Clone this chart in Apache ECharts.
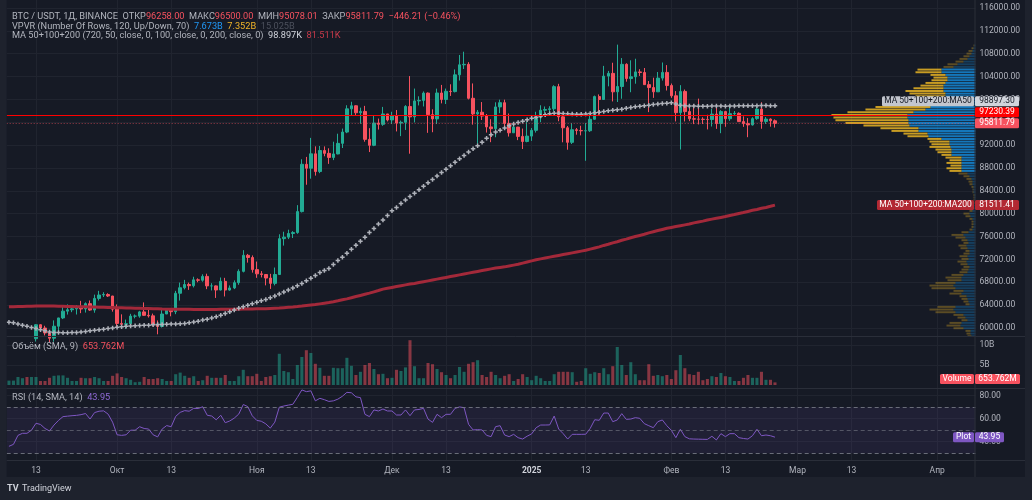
<!DOCTYPE html>
<html>
<head>
<meta charset="utf-8">
<script src="https://cdn.jsdelivr.net/npm/echarts@6/dist/echarts.min.js"></script>
<style>
html, body { margin: 0; padding: 0; background: #161a25; }
#chart { width: 1032px; height: 500px; }
</style>
</head>
<body>
<div id="chart"></div>
<script>
// daily bars Sep 7 2024 .. Feb 24 2025, BINANCE BTCUSDT
const opens = [
  53950, 54160, 54870, 57040, 57650, 57340, 58130, 60570, 60000, 59130, 58210, 60310, 61760, 62950, 63190, 63350, 63580, 63330, 64260, 63140, 65180, 65770, 65860, 65600,
  63300, 60800, 60650, 60750, 62080, 62080, 62820, 62220, 62130, 60580, 60270, 62450, 63190, 62850, 66080, 67040, 67610, 67400, 68430, 68360, 69030, 67370, 67370, 66650, 68160, 66640, 67010, 67930, 69910, 72720, 72340,
  70220, 69480, 69360, 68740, 67810, 69360, 75640, 75900, 76540, 76700, 80370, 88650, 87960, 90480, 87380, 91060, 90560, 89850, 90460, 92310, 94290, 98350, 98890, 97670, 97900, 93010, 91970, 95860, 95640, 97460,
  96410, 97190, 95860, 96000, 98770, 96950, 99740, 99830, 101110, 97340, 96590, 101130, 100000, 101420, 101370, 104300, 106060, 106140, 100200, 97460, 97760, 97090, 95190, 94880, 98690, 99430, 95800, 94160, 95160, 93530, 92640,
  93580, 94590, 96890, 98110, 98240, 98360, 102240, 96950, 95040, 92490, 94700, 94570, 94510, 94520, 96530, 100500, 99990, 104080, 104560, 101330, 102260, 106140, 103650, 103960, 104820, 104710, 102590, 102080, 101330, 103730, 104730,
  102430, 100640, 97690, 101400, 97870, 96620, 96550, 96530, 96500, 96480, 97430, 95780, 97870, 96620, 97510, 97570, 96120, 95770, 95540, 96640, 98310, 96150, 96560, 96258
];
const highs = [
  54850, 55320, 58100, 58040, 57990, 58590, 60670, 60660, 60390, 59210, 61330, 61790, 63850, 64130, 63560, 64000, 64750, 64480, 64820, 65840, 66500, 66260, 66080, 65620,
  64130, 62390, 61470, 62480, 62370, 63000, 64480, 63180, 62520, 61320, 63420, 63480, 63290, 66500, 67950, 68420, 67940, 68970, 68690, 69400, 69500, 67840, 67450, 68840, 68780, 67450, 68330, 70270, 73620, 72960, 72700,
  71630, 69960, 69400, 69480, 70580, 76400, 76850, 77200, 76950, 81500, 89530, 89940, 93270, 91790, 91850, 91780, 91450, 92600, 94000, 94900, 98980, 99590, 98980, 98560, 98870, 94970, 97200, 96650, 98690, 97460,
  97840, 98150, 96300, 99000, 104090, 101900, 100550, 101400, 101220, 98270, 101890, 102540, 101900, 102650, 105250, 107780, 108350, 106520, 102800, 98150, 99540, 97450, 96540, 99500, 99960, 99960, 97540, 95530, 95200, 94900, 96150,
  95000, 97840, 98980, 98770, 98810, 102480, 102730, 97260, 95350, 95840, 95000, 95390, 95890, 97370, 100680, 100880, 105870, 104990, 106420, 109590, 107240, 106330, 106850, 107120, 105290, 105500, 103220, 103800, 104800, 106460, 106010,
  102780, 101460, 102500, 101730, 99210, 99200, 100140, 96880, 97320, 98350, 98500, 98120, 98000, 98830, 97970, 97730, 97040, 96740, 96890, 98760, 99510, 96920, 96670, 96500
];
const lows = [
  53740, 53630, 54590, 56410, 55550, 57330, 57630, 59440, 58700, 57490, 57610, 59170, 61560, 62350, 62770, 62360, 62600, 62700, 62990, 62670, 64810, 65420, 65420, 62860,
  60160, 59980, 59830, 60460, 61690, 61800, 62130, 61830, 60300, 58900, 60080, 62440, 62050, 62420, 64800, 66750, 66670, 67100, 68000, 68100, 66800, 66570, 65260, 66570, 65520, 66520, 66810, 67560, 69730, 71440, 69690,
  68780, 68850, 67460, 66840, 67460, 69300, 74420, 75560, 75750, 76490, 80220, 85070, 86130, 86670, 87100, 90050, 88720, 89380, 90400, 91500, 94100, 97180, 97230, 95740, 92600, 90790, 91820, 94730, 95380, 96150,
  95690, 94400, 93580, 94660, 90500, 95980, 98950, 98770, 94150, 94260, 95690, 99310, 99200, 100610, 101230, 103300, 105320, 100000, 95590, 92230, 96400, 94200, 92520, 93380, 97600, 95140, 93500, 94120, 92880, 91320, 92500,
  92740, 94200, 96020, 97550, 97280, 97930, 96180, 92500, 91200, 92200, 93830, 93710, 89260, 94310, 96460, 97300, 99940, 102290, 99650, 99550, 100120, 103110, 101260, 102750, 104110, 102520, 97780, 100270, 101330, 103300, 101560,
  100280, 96150, 91230, 96150, 96200, 95680, 95620, 95690, 94750, 95260, 94850, 94090, 95210, 96250, 97220, 96050, 95200, 93390, 95430, 96430, 94870, 95710, 95230, 95078.01
];
const closes = [
  54160, 54870, 57040, 57650, 57340, 58130, 60570, 60000, 59130, 58210, 60310, 61760, 62950, 63190, 63350, 63580, 63330, 64260, 63140, 65180, 65770, 65860, 65600, 63300,
  60800, 60650, 60750, 62080, 62080, 62820, 62220, 62130, 60580, 60270, 62450, 63190, 62850, 66080, 67040, 67610, 67400, 68430, 68360, 69030, 67370, 67370, 66650, 68160, 66640, 67010, 67930, 69910, 72720, 72340, 70220,
  69480, 69360, 68740, 67810, 69360, 75640, 75900, 76540, 76700, 80370, 88650, 87960, 90480, 87380, 91060, 90560, 89850, 90460, 92310, 94290, 98350, 98890, 97670, 97900, 93010, 91970, 95860, 95640, 97460, 96410,
  97190, 95860, 96000, 98770, 96950, 99740, 99830, 101110, 97340, 96590, 101130, 100000, 101420, 101370, 104300, 106060, 106140, 100200, 97460, 97760, 97090, 95190, 94880, 98690, 99430, 95800, 94160, 95160, 93530, 92640, 93580,
  94590, 96890, 98110, 98240, 98360, 102240, 96950, 95040, 92490, 94700, 94570, 94510, 94520, 96530, 100500, 99990, 104080, 104560, 101330, 102260, 106140, 103650, 103960, 104820, 104710, 102590, 102080, 101330, 103730, 104730, 102430,
  100640, 97690, 101400, 97870, 96620, 96550, 96530, 96500, 96480, 97430, 95780, 97870, 96620, 97510, 97570, 96120, 95770, 95540, 96640, 98310, 96150, 96560, 96258, 95811.79
];
// quote volume, billions USDT
const volumes = [
  1.1, 1.1, 2.0, 1.7, 2.0, 2.0, 2.0, 1.0, 1.0, 1.8, 2.3, 2.4, 2.4, 1.8, 1.0, 1.0, 1.8, 1.7, 1.7, 2.0, 1.7, 1.0, 1.0, 2.3,
  2.9, 2.0, 1.7, 1.3, 0.7, 0.8, 2.0, 1.5, 1.5, 1.7, 1.5, 1.0, 1.0, 2.7, 3.1, 2.3, 1.8, 2.2, 1.0, 1.2, 2.3, 1.8, 1.8, 1.8, 2.5, 1.0, 1.0, 2.2, 3.8, 2.2, 2.2,
  2.8, 1.0, 2.0, 2.2, 2.5, 7.8, 3.5, 3.2, 1.5, 5.0, 7.0, 8.7, 8.0, 5.3, 4.3, 2.3, 2.3, 4.3, 4.2, 4.2, 6.8, 4.8, 2.5, 3.3, 5.0, 5.5, 4.0, 2.7, 2.8, 1.7,
  1.8, 3.8, 3.5, 4.4, 11.2, 4.7, 1.7, 1.7, 5.5, 5.2, 4.0, 3.2, 2.5, 1.7, 2.5, 4.5, 3.3, 5.3, 5.7, 6.2, 2.5, 2.0, 3.3, 2.5, 1.7, 2.3, 2.7, 1.0, 1.5, 2.7, 2.0,
  1.2, 2.3, 1.7, 1.0, 1.0, 2.7, 3.3, 3.3, 3.3, 3.2, 0.8, 1.0, 4.2, 2.8, 3.2, 3.0, 4.2, 2.7, 4.7, 9.5, 5.0, 2.5, 5.7, 2.7, 1.2, 1.2, 5.2, 2.3, 2.5, 2.2, 2.5,
  1.5, 3.7, 7.5, 4.2, 2.7, 2.5, 3.3, 1.2, 1.5, 2.2, 2.0, 3.0, 2.2, 2.0, 1.0, 1.0, 1.8, 2.5, 1.8, 1.8, 3.3, 1.3, 1.3, 0.653762
];
const ma50 = [
  61000, 60900, 60700, 60500, 60300, 60100, 59900, 59700, 59500, 59300,
  59200, 59200, 59150, 59150, 59200, 59200, 59300, 59400, 59500, 59600,
  59700, 59800, 59900, 60000, 60150, 60200, 60300, 60350, 60400, 60450,
  60500, 60500, 60550, 60600, 60600, 60650, 60700, 60700, 60750, 60800,
  60900, 61050, 61200, 61400, 61550, 61750, 61950, 62250, 62550, 62850,
  63150, 63450, 63700, 64000, 64250, 64500, 64750, 65000, 65300, 65600,
  65950, 66300, 66650, 67000, 67400, 67800, 68250, 68700, 69200, 69700,
  70050, 70400, 71100, 71800, 72400, 73100, 73800, 74500, 75200, 75900,
  76700, 77400, 78200, 78900, 79700, 80500, 81100, 81800, 82400, 83000,
  83600, 84200, 84800, 85400, 86000, 86600, 87200, 87800, 88400, 89000,
  89600, 90200, 90800, 91350, 91900, 92500, 93200, 93800, 94300, 94600,
  95000, 95400, 95700, 95950, 96200, 96450, 96700, 96900, 97100, 97300,
  97500, 97600, 97600, 97550, 97500, 97450, 97400, 97400, 97450, 97550,
  97650, 97750, 97900, 98000, 98100, 98200, 98300, 98450, 98600, 98700,
  98800, 98900, 99000, 99100, 99200, 99300, 99350, 99400, 99200, 99000,
  98900, 98850, 98850, 98800, 98800, 98800, 98850, 98850, 98850, 98800,
  98850, 98850, 98900, 98900, 98900, 98900, 98900, 98950, 98950, 98900, 98897.30
];
const ma200 = [
  63700, 63720, 63750, 63780, 63800, 63820, 63840, 63850, 63850, 63840,
  63830, 63820, 63800, 63780, 63760, 63740, 63720, 63700, 63680, 63660,
  63640, 63620, 63600, 63580, 63550, 63530, 63500, 63480, 63460, 63440,
  63420, 63400, 63380, 63350, 63320, 63300, 63290, 63280, 63270, 63260,
  63260, 63250, 63250, 63250, 63250, 63250, 63250, 63260, 63270, 63280,
  63290, 63300, 63310, 63320, 63330, 63350, 63360, 63380, 63420, 63460,
  63500, 63560, 63620, 63680, 63750, 63830, 63920, 64010, 64100, 64220,
  64340, 64460, 64600, 64760, 64930, 65100, 65300, 65500, 65700, 65900,
  66100, 66330, 66560, 66800, 66950, 67100, 67250, 67400, 67550, 67700,
  67800, 67950, 68100, 68250, 68400, 68550, 68700, 68850, 69000, 69150,
  69300, 69450, 69600, 69750, 69900, 70050, 70200, 70350, 70500, 70600,
  70700, 70850, 71000, 71150, 71350, 71550, 71750, 71950, 72100, 72250,
  72400, 72550, 72700, 72850, 73000, 73150, 73300, 73450, 73600, 73800,
  74000, 74200, 74450, 74650, 74900, 75100, 75350, 75550, 75800, 76000,
  76200, 76400, 76650, 76850, 77050, 77250, 77450, 77600, 77750, 77900,
  78050, 78200, 78400, 78550, 78700, 78900, 79050, 79200, 79350, 79500,
  79700, 79850, 80050, 80200, 80400, 80600, 80750, 80950, 81100, 81300, 81511.41
];
const rsi = [
  36.0, 37.7, 45.5, 47.3, 47.3, 50.0, 56.0, 55.0, 51.5, 49.3, 54.5, 58.5, 61.8, 62.2, 62.6, 62.9, 63.5, 64.5, 59.7, 65.3, 66.5, 66.8, 64.0, 57.0,
  46.0, 45.5, 46.0, 50.0, 50.0, 53.0, 51.5, 51.0, 46.0, 44.2, 51.0, 54.0, 53.0, 62.0, 65.5, 67.0, 66.5, 69.0, 68.8, 70.4, 63.0, 62.3, 59.0, 63.0, 56.5, 58.0, 60.5, 64.0, 72.3, 70.5, 62.5,
  58.5, 57.8, 55.5, 51.8, 57.0, 70.0, 71.0, 71.8, 72.5, 78.5, 85.0, 83.5, 84.2, 75.5, 77.7, 76.5, 75.0, 75.5, 77.0, 79.5, 82.9, 82.5, 79.0, 78.3, 63.8, 61.8, 67.6, 66.7, 68.4, 66.7,
  66.7, 63.2, 63.2, 67.6, 62.6, 67.6, 68.0, 69.0, 59.7, 56.8, 63.8, 60.9, 63.8, 63.8, 69.0, 70.2, 69.6, 55.1, 50.2, 50.5, 50.2, 45.5, 44.4, 53.1, 53.9, 45.8, 44.4, 46.4, 43.5, 42.3, 44.8,
  46.8, 52.2, 54.5, 54.5, 54.6, 62.3, 51.0, 47.0, 42.3, 46.4, 46.4, 46.4, 46.5, 51.6, 59.1, 58.6, 64.9, 64.9, 57.4, 58.9, 64.4, 59.4, 59.7, 60.9, 60.3, 55.7, 53.9, 52.2, 57.4, 58.9, 53.9,
  49.9, 43.5, 50.8, 44.4, 42.5, 42.3, 42.2, 42.1, 42.0, 44.7, 41.5, 47.0, 44.4, 47.0, 47.0, 43.5, 42.8, 42.3, 45.2, 50.8, 45.2, 45.8, 45.2, 43.95
];

// visible range volume profile, 120 rows from vpLow, hundreds of millions USDT
const vpLow = 53600, vpStep = 466.6;
const vpUp = [
  1.5, 2, 2.5, 3, 4, 5, 6, 7, 6, 5, 4, 5, 5, 12, 15, 14, 8, 10, 12, 20,
  22, 20, 6, 7, 8, 9, 14, 12, 20, 22, 20, 14, 14, 12, 8, 7, 6, 8, 9, 7,
  8, 6, 6, 8, 9, 7, 8, 10, 12, 7, 3, 2, 2, 2, 3, 5, 6, 3, 2, 2,
  1, 1, 1, 1, 2, 2, 2, 3, 3, 4, 6, 8, 14, 14, 14, 14, 14, 14, 24, 24,
  24, 25, 26, 26, 34, 47, 48, 57, 57, 66, 67, 67, 68, 68, 62, 50, 45, 38, 30, 28,
  30, 30, 32, 32, 32, 30, 28, 28, 30, 34, 34, 22, 18, 12, 8, 6, 4, 3, 2, 1
];
const vpDown = [
  1.5, 2, 2.5, 3, 4, 5, 6, 7, 6, 5, 4, 4, 5, 10, 14, 12, 6, 8, 10, 20,
  24, 18, 4, 5, 6, 7, 12, 10, 24, 24, 20, 14, 16, 12, 8, 7, 6, 7, 9, 7,
  8, 6, 4, 7, 8, 5, 6, 10, 12, 7, 3, 2, 2, 2, 3, 5, 6, 3, 2, 1,
  1, 1, 1, 1, 1, 1, 2, 3, 4, 5, 6, 9, 12, 15, 11, 15, 12, 16, 10, 14,
  16, 21, 18, 20, 14, 21, 24, 27, 38, 46, 63, 73, 74, 76, 66, 60, 55, 37, 22, 20,
  30, 36, 38, 30, 23, 20, 16, 14, 15, 26, 24, 10, 10, 8, 8, 6, 5, 4, 2, 1
];
const valueAreaLow = 87150, valueAreaHigh = 105450;
const pocPrice = 97230.39;

const priceTicks = [60000, 64000, 68000, 72000, 76000, 80000, 84000, 88000, 92000, 96000, 100000, 104000, 108000, 112000, 116000];
const volTicks = [5, 10];
const rsiTicks = [40, 60, 80];
const monthNames = ['Янв', 'Фев', 'Мар', 'Апр', 'Май', 'Июн', 'Июл', 'Авг', 'Сен', 'Окт', 'Ноя', 'Дек'];

// category axis: every calendar day on screen
const dates = [];
for (let i = 0; i < 215; i++) dates.push(new Date(Date.UTC(2024, 8, 7) + i * 864e5).toISOString().slice(0, 10));

const F = 'Roboto, "Noto Sans", sans-serif';
const HF = 9.2; // header font size
const UP = '#22ab94', DN = '#f7525f';
const gridCol = '#20242f', txtCol = '#b2b5be';
const GL = 6.7, GR = 56.5;
const PANE = { main: [0, 336], vol: [337, 388], rsi: [389, 460] };

const isMark = (i, v) => v.endsWith('-01') || v.endsWith('-13');
const xAxisFor = (gi, labels) => ({
  type: 'category', gridIndex: gi, data: dates, boundaryGap: true,
  axisLine: { show: false }, axisTick: { show: false },
  axisLabel: labels ? {
    show: true, interval: isMark, margin: 6, color: txtCol, fontSize: 8.5, fontFamily: F,
    formatter: v => {
      const m = +v.slice(5, 7), d = +v.slice(8, 10);
      if (d === 13) return '13';
      return m === 1 ? '{y|' + v.slice(0, 4) + '}' : monthNames[m - 1];
    },
    rich: { y: { fontWeight: 'bold', color: '#d1d4dc', fontSize: 8.5, fontFamily: F } }
  } : { show: false },
  splitLine: { show: true, interval: isMark, alignWithLabel: true, lineStyle: { color: gridCol, width: 1 } }
});
const yAxisFor = (gi, min, max, ticks, fmt) => ({
  type: 'value', gridIndex: gi, position: 'right', min, max, scale: true,
  axisLine: { show: false },
  axisTick: { show: false, customValues: ticks },
  axisLabel: { customValues: ticks, formatter: fmt, color: txtCol, fontSize: 8.5, fontFamily: F, margin: 4 },
  splitLine: { show: true, lineStyle: { color: gridCol, width: 1 } }
});

const candles = opens.map((o, i) => [o, closes[i], lows[i], highs[i]]);
const volData = volumes.map((v, i) => ({
  value: v,
  itemStyle: { color: closes[i] >= opens[i] ? 'rgba(34,171,148,0.5)' : 'rgba(247,82,95,0.5)' }
}));
const vpRows = vpUp.map((u, i) => [i, u, vpDown[i]]);
const vpMax = Math.max(...vpUp.map((u, i) => u + vpDown[i]));

const plusSym = 'path://M1,0H2V1H3V2H2V3H1V2H0V1H1Z';

const chart = echarts.init(document.getElementById('chart'));
chart.setOption({
  backgroundColor: '#161a25',
  animation: false,
  grid: [
    { left: GL, right: GR, top: PANE.main[0], height: PANE.main[1] - PANE.main[0] },
    { left: GL, right: GR, top: PANE.vol[0], height: PANE.vol[1] - PANE.vol[0] },
    { left: GL, right: GR, top: PANE.rsi[0], height: PANE.rsi[1] - PANE.rsi[0] },
    { left: GL, right: GR, top: PANE.main[0], height: PANE.main[1] - PANE.main[0] }
  ],
  xAxis: [
    xAxisFor(0, false), xAxisFor(1, false), xAxisFor(2, true),
    { type: 'value', gridIndex: 3, inverse: true, min: 0, max: vpMax / 0.1487, show: false }
  ],
  yAxis: [
    yAxisFor(0, 58600, 117400, priceTicks, v => v.toFixed(2)),
    yAxisFor(1, -0.75, 12, volTicks, v => v + 'B'),
    yAxisFor(2, 24.1, 85.8, rsiTicks, v => v.toFixed(2)),
    { type: 'value', gridIndex: 3, min: 58600, max: 117400, show: false }
  ],
  series: [
    {
      type: 'custom', name: 'VPVR', xAxisIndex: 3, yAxisIndex: 3, z: 1, clip: true, silent: true,
      data: vpRows,
      renderItem: (params, api) => {
        const i = api.value(0), up = api.value(1), dn = api.value(2);
        const lo = vpLow + i * vpStep, hi = lo + vpStep;
        const a = api.coord([0, hi]), b = api.coord([up, lo]), c = api.coord([up + dn, lo]);
        const mid = (lo + hi) / 2;
        const inVA = mid >= valueAreaLow && mid <= valueAreaHigh;
        const h = Math.max(b[1] - a[1] - 0.7, 0.5);
        return {
          type: 'group', children: [
            { type: 'rect', shape: { x: b[0], y: a[1], width: a[0] - b[0], height: h },
              style: { fill: inVA ? 'rgba(21,146,230,0.78)' : 'rgba(21,146,230,0.3)' } },
            { type: 'rect', shape: { x: c[0], y: a[1], width: b[0] - c[0], height: h },
              style: { fill: inVA ? 'rgba(251,193,35,0.78)' : 'rgba(251,193,35,0.3)' } }
          ]
        };
      }
    },
    {
      type: 'candlestick', name: 'BTCUSDT', xAxisIndex: 0, yAxisIndex: 0, data: candles, barWidth: '66%', clip: true,
      itemStyle: { color: UP, color0: DN, borderColor: UP, borderColor0: DN, borderWidth: 1 },
      markLine: {
        silent: true, symbol: ['none', 'none'], label: { show: false }, animation: false,
        data: [
          { yAxis: pocPrice, lineStyle: { color: '#ff0000', width: 1, type: 'solid' } },
          { yAxis: closes[closes.length - 1], lineStyle: { color: 'rgba(247,82,95,0.6)', width: 1, type: [1, 2] } }
        ]
      }
    },
    {
      type: 'line', name: 'MA200', xAxisIndex: 0, yAxisIndex: 0, data: ma200, z: 3,
      showSymbol: false, lineStyle: { color: '#a3293a', width: 3 }
    },
    {
      type: 'line', name: 'MA50', xAxisIndex: 0, yAxisIndex: 0, data: ma50, z: 4,
      symbol: plusSym, symbolSize: 4.5, showAllSymbol: true,
      itemStyle: { color: '#aeb1b9' }, lineStyle: { width: 0, opacity: 0 }
    },
    {
      type: 'bar', name: 'Volume', xAxisIndex: 1, yAxisIndex: 1, data: volData, barWidth: '68%'
    },
    {
      type: 'line', name: 'RSI', xAxisIndex: 2, yAxisIndex: 2, data: rsi, showSymbol: false,
      lineStyle: { color: '#7e57c2', width: 1 },
      markArea: { silent: true, itemStyle: { color: 'rgba(126,87,194,0.1)' }, data: [[{ yAxis: 30 }, { yAxis: 70 }]] },
      markLine: {
        silent: true, symbol: ['none', 'none'], label: { show: false },
        lineStyle: { color: 'rgba(120,123,134,0.85)', width: 1, type: [4, 3] },
        data: [{ yAxis: 70 }, { yAxis: 50, lineStyle: { color: 'rgba(120,123,134,0.6)' } }, { yAxis: 30 }]
      }
    }
  ]
});

// overlays: header, pane titles, price tags
const last = closes.length - 1;
const f2 = v => v.toFixed(2);
const chg = closes[last] - closes[last - 1];
const sign = chg < 0 ? '−' : '+';
const rs = c => ({ fill: c, fontSize: HF, fontFamily: F });
const richSet = { g: rs('#b2b5be'), r: rs(DN), b: rs('#2196f3'), y: rs('#f0b429'), d: rs('#4c505c'), w: rs('#d1d4dc'), m: rs('#c83a4a'), p: rs('#8f6ad6') };
const rtext = (x, y, text) => ({
  type: 'text', x, y, z: 100, silent: true,
  style: { text, rich: richSet, fontSize: HF, fontFamily: F, textVerticalAlign: 'middle' }
});

const g = [];
// frame strips
g.push({ type: 'rect', z: 90, shape: { x: 0, y: 0, width: 6.7, height: 500 }, style: { fill: '#1e222d' } });
g.push({ type: 'rect', z: 90, shape: { x: 1025, y: 0, width: 7, height: 500 }, style: { fill: '#1e222d' } });
g.push({ type: 'rect', z: 90, shape: { x: 0, y: 477, width: 1032, height: 23 }, style: { fill: '#1e222d' } });
// separators
[336.5, 388.5, 460.5].forEach(y => g.push({ type: 'line', z: 91, shape: { x1: 6.7, y1: y, x2: 1025, y2: y }, style: { stroke: '#2a2e39', lineWidth: 1 } }));
g.push({ type: 'line', z: 91, shape: { x1: 975, y1: 0, x2: 975, y2: 477 }, style: { stroke: '#2a2e39', lineWidth: 1 } });

g.push(rtext(12, 17, `{g|BTC / USDT, 1Д, BINANCE  ОТКР}{r|${f2(opens[last])}}{g|  МАКС}{r|${f2(highs[last])}}{g|  МИН}{r|${f2(lows[last])}}{g|  ЗАКР}{r|${f2(closes[last])}}{r|  ${sign}${f2(Math.abs(chg))} (${sign}${f2(Math.abs(chg / closes[last - 1] * 100))}%)}`));
g.push(rtext(12, 26.5, '{g|VPVR (Number Of Rows, 120, Up/Down, 70)  }{b|7.673B}{g|  }{y|7.352B}{g|  }{d|15.025B}'));
g.push(rtext(12, 36, `{g|MA 50+100+200 (720, 50, close, 0, 100, close, 0, 200, close, 0)  }{w|${(ma50[last] / 1000).toFixed(3)}K}{g|  }{m|${(ma200[last] / 1000).toFixed(3)}K}`));
g.push(rtext(12, 346.3, `{g|Объём (SMA, 9)  }{r|${(volumes[last] * 1000).toFixed(3)}M}`));
g.push(rtext(12, 397.3, `{g|RSI (14, SMA, 14)  }{p|${f2(rsi[last])}}`));

// footer logo
g.push({ type: 'text', z: 100, x: 7, y: 489, style: { text: 'TV', fill: '#d1d4dc', fontSize: 9, fontWeight: 'bold', fontFamily: F, textVerticalAlign: 'middle' } });
g.push({ type: 'text', z: 100, x: 22, y: 489, style: { text: 'TradingView', fill: '#d1d4dc', fontSize: 9, fontFamily: F, textVerticalAlign: 'middle' } });

function tag(yc, value, bg, fg, boxW, name, nameW, nameBg, nameFg) {
  g.push({ type: 'rect', z: 100, shape: { x: 975, y: yc - 5, width: boxW, height: 10, r: 1.5 }, style: { fill: bg } });
  g.push({ type: 'text', z: 101, x: 975 + boxW / 2, y: yc, style: { text: value, fill: fg, fontSize: 8.5, fontFamily: F, textAlign: 'center', textVerticalAlign: 'middle' } });
  if (name) {
    g.push({ type: 'rect', z: 100, shape: { x: 974 - nameW, y: yc - 5, width: nameW, height: 10, r: 1.5 }, style: { fill: nameBg } });
    g.push({ type: 'text', z: 101, x: 974 - nameW / 2, y: yc, style: { text: name, fill: nameFg, fontSize: 8.5, fontFamily: F, textAlign: 'center', textVerticalAlign: 'middle' } });
  }
}
const py = v => chart.convertToPixel({ yAxisIndex: 0 }, v);
// stack price tags upward so they do not overlap
let yLast = py(closes[last]);
let yPoc = Math.min(py(pocPrice), yLast - 11);
let yMa50 = Math.min(py(ma50[last]), yPoc - 11);
tag(yLast, f2(closes[last]), DN, '#ffffff', 44);
tag(yPoc, f2(pocPrice), '#ff0000', '#ffffff', 44);
tag(yMa50, f2(ma50[last]), '#d1d4dc', '#131722', 44, 'MA 50+100+200:MA50', 92, '#c3c6ce', '#131722');
tag(py(ma200[last]), f2(ma200[last]), '#b22833', '#ffffff', 44, 'MA 50+100+200:MA200', 97, '#b22833', '#ffffff');
const yVol = Math.min(chart.convertToPixel({ yAxisIndex: 1 }, volumes[last]), PANE.vol[1] - 9);
tag(yVol, (volumes[last] * 1000).toFixed(3) + 'M', DN, '#ffffff', 45, 'Volume', 34, DN, '#ffffff');
tag(chart.convertToPixel({ yAxisIndex: 2 }, rsi[last]), f2(rsi[last]), '#7e57c2', '#ffffff', 29, 'Plot', 21, '#7e57c2', '#ffffff');

chart.setOption({ graphic: g });
</script>
</body>
</html>
